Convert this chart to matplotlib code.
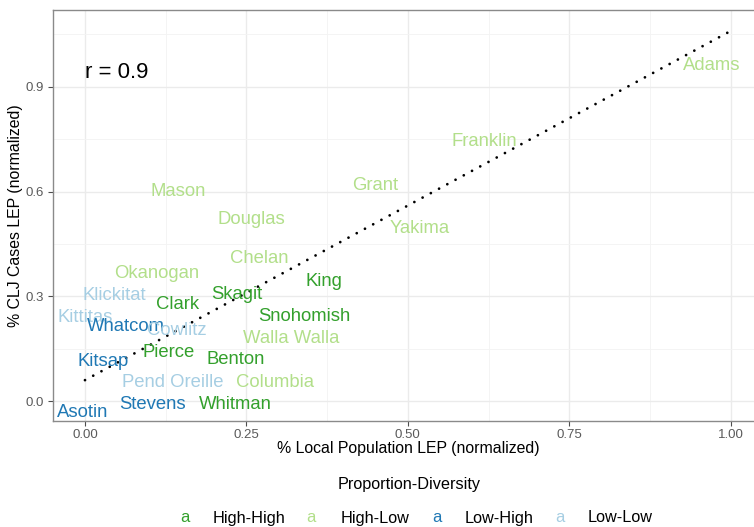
import numpy as np
import matplotlib.pyplot as plt

plt.rcParams['font.family'] = ['Liberation Sans', 'DejaVu Sans']

counties = ['Adams', 'Franklin', 'Grant', 'Yakima', 'Mason', 'Douglas', 'Chelan',
            'Okanogan', 'King', 'Klickitat', 'Skagit', 'Clark', 'Kittitas',
            'Snohomish', 'Whatcom', 'Cowlitz', 'Walla Walla', 'Pierce', 'Benton',
            'Kitsap', 'Pend Oreille', 'Columbia', 'Stevens', 'Whitman', 'Asotin']
pop_lep = [0.970, 0.619, 0.449, 0.518, 0.144, 0.258, 0.270,
           0.111, 0.370, 0.045, 0.235, 0.144, 0.000,
           0.340, 0.064, 0.142, 0.320, 0.130, 0.233,
           0.028, 0.136, 0.294, 0.105, 0.233, -0.003]
clj_lep = [0.968, 0.748, 0.624, 0.499, 0.605, 0.527, 0.413,
           0.370, 0.349, 0.309, 0.311, 0.282, 0.246,
           0.248, 0.220, 0.208, 0.186, 0.146, 0.124,
           0.120, 0.060, 0.060, -0.005, -0.005, -0.028]
groups = ['High-Low', 'High-Low', 'High-Low', 'High-Low', 'High-Low', 'High-Low', 'High-Low',
          'High-Low', 'High-High', 'Low-Low', 'High-High', 'High-High', 'Low-Low',
          'High-High', 'Low-High', 'Low-Low', 'High-Low', 'High-High', 'High-High',
          'Low-High', 'Low-Low', 'High-Low', 'Low-High', 'High-High', 'Low-High']

group_names = ['High-High', 'High-Low', 'Low-High', 'Low-Low']
group_colors = ['#33a02c', '#b2df8a', '#1f78b4', '#a6cee3']

# linear fit shown as dotted line
fit_intercept = 0.06
fit_slope = 1.0
fit_range = [0.0, 1.0]
r_value = 0.9

fig = plt.figure(figsize=(7.54, 5.27), dpi=100)
ax = fig.add_axes([52.7 / 754, 106 / 527, (763 - 52.7) / 754, 411 / 527])

ax.set_xlim(-0.05, 1.05)
ax.set_ylim(-0.057, 1.12)
ax.set_xticks([0, 0.25, 0.5, 0.75, 1.0])
ax.set_xticklabels(['0.00', '0.25', '0.50', '0.75', '1.00'])
ax.set_yticks([0.0, 0.3, 0.6, 0.9])
ax.set_yticklabels(['0.0', '0.3', '0.6', '0.9'])
ax.set_xticks([0.125, 0.375, 0.625, 0.875], minor=True)
ax.set_yticks([0.15, 0.45, 0.75, 1.05], minor=True)
ax.grid(True, which='major', color='#ebebeb', lw=1.0, zorder=0)
ax.grid(True, which='minor', color='#f3f3f3', lw=0.6, zorder=0)
ax.set_axisbelow(True)
ax.tick_params(which='major', length=3.5, width=0.8, color='#4d4d4d',
               labelsize=9.5, labelcolor='#5a5a5a', pad=2.5)
ax.tick_params(which='minor', length=0)
for sp in ax.spines.values():
    sp.set_color('#8a8a8a')
    sp.set_linewidth(1.0)

xs = np.array(fit_range)
ax.plot(xs, fit_intercept + fit_slope * xs, color='black', lw=2.0,
        dashes=(0.01, 3.36), dash_capstyle='round', zorder=3)

color_of = dict(zip(group_names, group_colors))
for name, x, y, g in zip(counties, pop_lep, clj_lep, groups):
    ax.text(x, y, name, color=color_of[g], fontsize=13.3, ha='center',
            va='center_baseline', zorder=4)

ax.text(0.0, 0.948, f'r = {r_value}', fontsize=16, ha='left',
        va='center_baseline', color='black')

ax.set_xlabel('% Local Population LEP (normalized)', fontsize=11.4, labelpad=0)
ax.set_ylabel('% CLJ Cases LEP (normalized)', fontsize=11.4, labelpad=2)

# legend along the bottom
fig.text(409 / 754, 1 - 484 / 527, 'Proportion-Diversity', fontsize=11.7,
         ha='center', va='center')
key_x = [185, 311, 437, 560]
lab_x = [213, 341, 465, 588]
for kx, lx, name, col in zip(key_x, lab_x, group_names, group_colors):
    fig.text(kx / 754, 1 - 518 / 527, 'a', color=col, fontsize=12, ha='center', va='center')
    fig.text(lx / 754, 1 - 518 / 527, name, color='black', fontsize=11.7, ha='left', va='center')

fig.savefig('out.png', dpi=100)
